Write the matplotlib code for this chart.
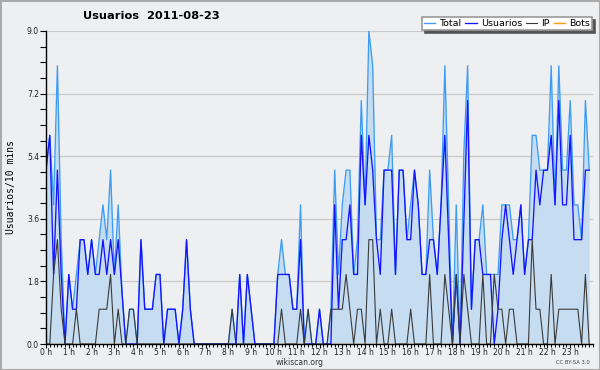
import numpy as np
import matplotlib
matplotlib.use("Agg")
import matplotlib.pyplot as plt
from matplotlib.patches import Rectangle

# ---- data (10-minute intervals, 144 per day) ----
usuarios = [5, 6, 2, 5, 2, 0, 2, 1, 1, 3,
            3, 2, 3, 2, 2, 3, 2, 3, 2, 3,
            1.5, 0, 0, 0, 0, 3, 1, 1, 1, 2,
            2, 0, 1, 1, 1, 0, 1, 3, 1, 0,
            0, 0, 0, 0, 0, 0, 0, 0, 0, 0,
            0, 2, 0, 2, 1, 0, 0, 0, 0, 0,
            0, 2, 2, 2, 2, 1, 1, 3, 0, 0,
            0, 0, 1, 0, 0, 0, 4, 1, 3, 3,
            4, 2, 2, 6, 4, 6, 5, 3, 2, 5,
            5, 5, 2, 5, 5, 3, 3, 5, 4, 2,
            2, 3, 3, 2, 4, 6, 3, 0, 2, 0,
            3.5, 7, 1, 3, 3, 2, 2, 2, 0, 1,
            3, 4, 3, 2, 3, 4, 2, 3, 3, 5,
            4, 5, 5, 6, 4, 7, 4, 4, 6, 3,
            3, 3, 5, 5]
ip = [0, 0, 2, 3, 1, 0, 0, 0, 1, 0,
      0, 0, 0, 0, 1, 1, 1, 2, 0, 1,
      0, 0, 1, 1, 0, 0, 0, 0, 0, 0,
      0, 0, 0, 0, 0, 0, 0, 0, 0, 0,
      0, 0, 0, 0, 0, 0, 0, 0, 0, 1,
      0, 0, 0, 0, 0, 0, 0, 0, 0, 0,
      0, 0, 1, 0, 0, 0, 0, 1, 0, 1,
      0, 0, 0, 0, 0, 1, 1, 1, 1, 2,
      1, 0, 1, 1, 0, 3, 3, 0, 1, 0,
      0, 1, 0, 0, 0, 0, 1, 0, 0, 0,
      0, 2, 0, 0, 0, 2, 1, 0, 2, 0,
      2, 1, 0, 0, 0, 2, 0, 0, 2, 1,
      1, 0, 1, 1, 0, 0, 0, 0, 3, 1,
      1, 0, 0, 2, 0, 1, 1, 1, 1, 1,
      1, 0, 2, 0]
total = [5, 6, 4, 8, 3, 0, 2, 1, 2, 3,
         3, 2, 3, 2, 3, 4, 3, 5, 2, 4,
         1.5, 0, 1, 1, 0, 3, 1, 1, 1, 2,
         2, 0, 1, 1, 1, 0, 1, 3, 1, 0,
         0, 0, 0, 0, 0, 0, 0, 0, 0, 1,
         0, 2, 0, 2, 1, 0, 0, 0, 0, 0,
         0, 2, 3, 2, 2, 1, 1, 4, 0, 1,
         0, 0, 1, 0, 0, 1, 5, 2, 4, 5,
         5, 2, 3, 7, 4, 9, 8, 3, 3, 5,
         5, 6, 2, 5, 5, 3, 4, 5, 4, 2,
         2, 5, 3, 2, 4, 8, 4, 0, 4, 0,
         5.5, 8, 1, 3, 3, 4, 2, 2, 2, 2,
         4, 4, 4, 3, 3, 4, 2, 3, 6, 6,
         5, 5, 5, 8, 4, 8, 5, 5, 7, 4,
         4, 3, 7, 5]
bots = [0] * 144

hour_labels = [f"{h} h" for h in range(24)]
y_ticks = [0.0, 1.8, 3.6, 5.4, 7.2, 9.0]
y_labels = ["0.0", "1.8", "3.6", "5.4", "7.2", "9.0"]

title = "Usuarios  2011-08-23"
ylabel = "Usuarios/10 mins"

# ---- style ----
BG = "#eeeff1"
C_TOTAL = "#3d9cf5"
C_FILL = "#c6ddf1"
C_USR = "#1414ff"
C_IP = "#3a3a3a"
C_BOTS = "#ff9a00"

fig = plt.figure(figsize=(6, 3.7), dpi=100, facecolor=BG)
ax = fig.add_axes([46 / 600, 26 / 370, 547 / 600, 313 / 370])
ax.set_facecolor(BG)

x = np.arange(len(total)) / 6.0

ax.fill_between(x, 0, total, color=C_FILL, lw=0, zorder=1)
ax.plot(x, bots, color=C_BOTS, lw=1, zorder=1.5, label="Bots")
ax.plot(x, total, color=C_TOTAL, lw=0.95, zorder=2, label="Total")
ax.plot(x, usuarios, color=C_USR, lw=0.95, zorder=2.1, label="Usuarios")
ax.plot(x, ip, color=C_IP, lw=0.8, zorder=2.2, label="IP")

ax.set_xlim(0, 24)
ax.set_ylim(0, 9)

ax.set_yticks(y_ticks)
ax.set_yticklabels(y_labels, fontsize=5.5, color="#222222")
ax.set_yticks(np.arange(0, 9.01, 0.45), minor=True)
ax.set_xticks(np.arange(24))
ax.set_xticklabels(hour_labels, fontsize=5.5, color="#222222")
ax.set_xticks(np.arange(0, 24.001, 1 / 6), minor=True)

ax.tick_params(axis="y", which="major", direction="out", length=4, width=0.8, pad=1)
ax.tick_params(axis="y", which="minor", direction="out", length=4, width=0.8)
ax.tick_params(axis="x", which="major", direction="out", length=2.6, width=0.8, pad=0)
ax.tick_params(axis="x", which="minor", direction="out", length=1.8, width=0.7)

for s in ("top", "right"):
    ax.spines[s].set_visible(False)
for s in ("left", "bottom"):
    ax.spines[s].set_color("black")
    ax.spines[s].set_linewidth(1.0)

for yv in y_ticks[1:]:
    ax.axhline(yv, color="#c9c9c9", lw=0.9, zorder=0.5)

ax.set_ylabel(ylabel, family="DejaVu Sans Mono", fontsize=7, labelpad=8)

fig.text(151 / 600, 1 - 16 / 370, title, ha="center", va="center",
         fontsize=8.2, fontweight="bold")
fig.text(300 / 600, 1 - 362.5 / 370, "wikiscan.org", ha="center", va="center",
         fontsize=5.5, color="#333333")
fig.text(590 / 600, 1 - 363 / 370, "CC BY-SA 3.0", ha="right", va="center",
         fontsize=3.8, color="#444444")

h = {l.get_label(): l for l in ax.get_lines()}
order = ["Total", "Usuarios", "IP", "Bots"]
leg = ax.legend([h[k] for k in order], order, ncol=4, loc="upper right",
                bbox_to_anchor=(592 / 600, 1 - 17 / 370),
                bbox_transform=fig.transFigure, fontsize=6.8,
                frameon=True, fancybox=False, framealpha=1,
                edgecolor="#999999", facecolor="white",
                handlelength=1.2, handletextpad=0.45, columnspacing=0.4,
                borderpad=0.2, borderaxespad=0,
                shadow={"color": "#555555", "alpha": 1})
leg.get_frame().set_linewidth(1.2)
leg.set_zorder(10)

fig.patches.append(Rectangle((0.5 / 600, 0.5 / 370), 599 / 600, 369 / 370,
                             transform=fig.transFigure, fill=False,
                             edgecolor="#aaaaaa", lw=1.5))

fig.savefig("out.png", dpi=100, facecolor=BG)
